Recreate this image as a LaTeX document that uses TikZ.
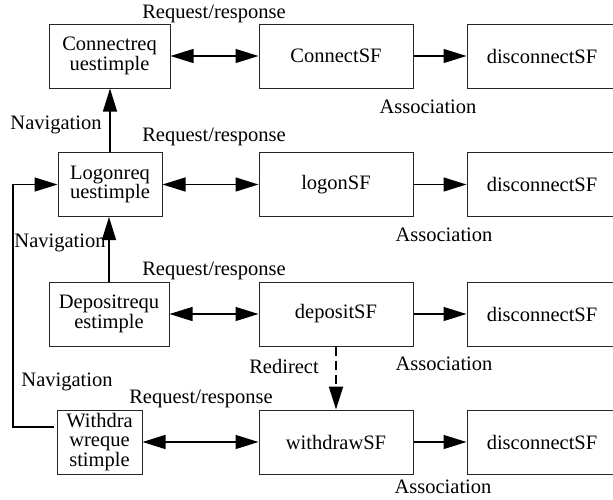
\documentclass[tikz,border=0pt]{standalone}
\usepackage{fontspec}
\setmainfont{Liberation Serif}
\usetikzlibrary{arrows.meta}
\begin{document}
\begin{tikzpicture}[x=1pt,y=-1pt,
  font=\fontsize{20.5}{19.5}\selectfont,
  >={Triangle[length=23pt, width=14pt]},
  box/.style={draw=black!85, line width=1pt, rectangle, inner sep=0pt,
              minimum height=64pt, align=center},
  lbl/.style={inner sep=0pt},
  link/.style={line width=1.4pt, black},
  redirectline/.style={line width=2pt, dash pattern=on 9pt off 5pt}
]
\useasboundingbox[fill=white] (0,0) rectangle (613,499);

% request pages (left column)
\node[box, minimum width=121pt] (creq) at (109.5,56)  {Connectreq\\uestimple};
\node[box, minimum width=104pt] (lreq) at (110,184.5) {Logonreq\\uestimple};
\node[box, minimum width=120pt] (dreq) at (109,314)   {Depositrequ\\estimple};
\node[box, minimum width=85pt]  (wreq) at (99.5,442)  {Withdra\\wreque\\stimple};

% service functions (middle column)
\node[box, minimum width=154pt] (csf) at (336,56)    {ConnectSF};
\node[box, minimum width=154pt] (lsf) at (336,184.5) {logonSF};
\node[box, minimum width=154pt] (dsf) at (336,314)   {depositSF};
\node[box, minimum width=154pt] (wsf) at (336,442)   {withdrawSF};

% disconnect functions (right column)
\node[box, minimum width=150pt] (d1) at (542,56)    {disconnectSF};
\node[box, minimum width=150pt] (d2) at (542,184.5) {disconnectSF};
\node[box, minimum width=150pt] (d3) at (542,314)   {disconnectSF};
\node[box, minimum width=150pt] (d4) at (542,442)   {disconnectSF};

% request/response links
\draw[link, <->] (creq.east) -- (csf.west);
\draw[link, <->] (lreq.east) -- (lsf.west);
\draw[link, <->] (dreq.east) -- (dsf.west);
\draw[link, <->] (wreq.east) -- (wsf.west);

% association links
\draw[link, ->] (csf.east) -- (d1.west);
\draw[link, ->] (lsf.east) -- (d2.west);
\draw[link, ->] (dsf.east) -- (d3.west);
\draw[link, ->] (wsf.east) -- (d4.west);

% navigation links
\draw[link, ->] (lreq.north) -- (lreq.north |- creq.south);
\draw[link, ->] (dreq.north) -- (dreq.north |- lreq.south);
\coordinate (loopstart) at (54,427);
\coordinate (loopcorner) at (13,427);
\draw[link, ->] (loopstart) -- (loopcorner) |- (lreq.west);

% redirect
\draw[redirectline, ->] (dsf.south) -- (wsf.north);

% labels
\node[lbl] (rr1) at (214,14)  {Request/response};
\node[lbl] (rr2) at (214,137) {Request/response};
\node[lbl] (rr3) at (214,271) {Request/response};
\node[lbl] (rr4) at (201,399) {Request/response};

\node[lbl] (nav1) at (56,125) {Navigation};
\node[lbl] (nav2) at (60,243) {Navigation};
\node[lbl] (nav3) at (67,382) {Navigation};

\node[lbl] (redir) at (284,366) {Redirect};

\node[lbl] (as1) at (428,107) {Association};
\node[lbl] (as2) at (444,235) {Association};
\node[lbl] (as3) at (444,364) {Association};
\node[lbl] (as4) at (443,487) {Association};
\end{tikzpicture}
\end{document}
